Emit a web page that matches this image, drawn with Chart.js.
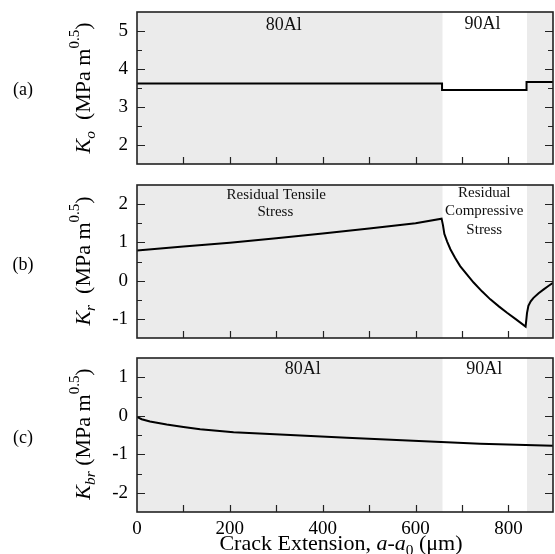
<!DOCTYPE html>
<html><head><meta charset="utf-8">
<script src="https://cdn.jsdelivr.net/npm/chart.js@4"></script>
<style>
html,body{margin:0;padding:0;background:#fff;}
#wrap{position:relative;width:555px;height:554px;overflow:hidden;}
canvas{position:absolute;left:0;}
.t{position:absolute;white-space:nowrap;font-family:'Liberation Serif',serif;color:#000;line-height:1;}
.yt{font-size:22px;transform:translate(-50%,-50%) rotate(-90deg);}
.pl{font-size:18px;transform:translate(-50%,-50%);}
.xt{font-size:22px;transform:translate(-50%,-50%);}
sub{font-size:70%;vertical-align:-0.3em;line-height:0;}
sup{font-size:68%;vertical-align:0.75em;line-height:0;}
</style></head>
<body>
<div id="wrap">
<canvas id="ca" width="555" height="176" style="top:0px"></canvas>
<canvas id="cb" width="555" height="172" style="top:176px"></canvas>
<canvas id="cc" width="555" height="206" style="top:348px"></canvas>
<div class="t pl" style="left:23px;top:89px">(a)</div>
<div class="t pl" style="left:23px;top:264px">(b)</div>
<div class="t pl" style="left:23px;top:437px">(c)</div>
<div class="t yt" style="left:83px;top:88px"><i>K</i><sub><i>o</i></sub>&nbsp; (MPa m<sup>0.5</sup>)</div>
<div class="t yt" style="left:83px;top:261px"><i>K</i><sub><i>r</i></sub>&nbsp; (MPa m<sup>0.5</sup>)</div>
<div class="t yt" style="left:83px;top:434px"><i>K</i><sub><i>br</i></sub>&nbsp;(MPa m<sup>0.5</sup>)</div>
<div class="t xt" style="left:341px;top:543px">Crack Extension, <i>a</i>-<i>a</i><sub>0</sub> (μm)</div>
</div>
<script>
// ---- data ----
const xRange = [0, 896];
const xTicks = [0, 100, 200, 300, 400, 500, 600, 700, 800];
const xLabels = ['0', '', '200', '', '400', '', '600', '', '800'];
const shadeStarts = [0, 840];
const shadeEnds = [658, 896];

const aX = [0, 657, 657, 839, 839, 896];
const aY = [3.62, 3.62, 3.45, 3.45, 3.66, 3.66];

const bX = [0, 100, 200, 300, 400, 500, 600, 656, 659, 662, 668, 675, 685, 696, 710, 725, 743, 761, 780, 797, 815, 837, 840, 843, 848, 854, 865, 876, 886, 896];
const bY = [0.79, 0.89, 0.99, 1.11, 1.23, 1.36, 1.50, 1.62, 1.45, 1.22, 1.02, 0.82, 0.60, 0.38, 0.17, -0.05, -0.28, -0.49, -0.68, -0.84, -1.00, -1.20, -0.85, -0.66, -0.54, -0.45, -0.33, -0.23, -0.14, -0.06];

const cX = [0, 10, 28, 64, 100, 136, 208, 308, 452, 595, 739, 896];
const cY = [-0.03, -0.09, -0.15, -0.23, -0.29, -0.35, -0.43, -0.49, -0.57, -0.65, -0.73, -0.78];

const aRange = [1.5, 5.5];
const bRange = [-1.5, 2.5];
const cRange = [-2.5, 1.5];

const aNotes = [{text: '80Al', x: 316, y: 5.16}, {text: '90Al', x: 744, y: 5.19}];
const bNotes = [{text: 'Residual Tensile', x: 300, y: 2.25, small: true}, {text: 'Stress', x: 298, y: 1.79, small: true},
                {text: 'Residual', x: 748, y: 2.28, small: true}, {text: 'Compressive', x: 748, y: 1.81, small: true}, {text: 'Stress', x: 748, y: 1.32, small: true}];
const cNotes = [{text: '80Al', x: 357, y: 1.21}, {text: '90Al', x: 748, y: 1.21}];

// ---- drawing helpers ----
const framePlugin = {
  id: 'frame',
  beforeDatasetsDraw(chart) {
    const {ctx, chartArea: ca, scales: {x}} = chart;
    ctx.save();
    ctx.fillStyle = '#ebebeb';
    for (let i = 0; i < shadeStarts.length; i++) {
      const l = x.getPixelForValue(shadeStarts[i]);
      const r = x.getPixelForValue(shadeEnds[i]);
      ctx.fillRect(l, ca.top, r - l, ca.bottom - ca.top);
    }
    ctx.restore();
  },
  afterDatasetsDraw(chart, args, opts) {
    const {ctx, chartArea: ca, scales: {x, y}} = chart;
    ctx.save();
    ctx.strokeStyle = '#222';
    ctx.lineWidth = 1.2;
    ctx.beginPath();
    y.ticks.forEach(t => {
      if (t.value <= y.min || t.value >= y.max) return;
      const tl = Number.isInteger(t.value) ? 8 : 5;
      const p = Math.round(y.getPixelForValue(t.value)) + 0.5;
      ctx.moveTo(ca.left, p); ctx.lineTo(ca.left + tl, p);
      ctx.moveTo(ca.right, p); ctx.lineTo(ca.right - tl, p);
    });
    x.ticks.forEach(t => {
      if (t.value <= x.min || t.value >= x.max) return;
      const p = Math.round(x.getPixelForValue(t.value)) + 0.5;
      ctx.moveTo(p, ca.bottom); ctx.lineTo(p, ca.bottom - 7);
    });
    ctx.stroke();
    ctx.lineWidth = 1.6;
    ctx.strokeRect(ca.left, ca.top, ca.right - ca.left, ca.bottom - ca.top);
    ctx.fillStyle = '#111';
    ctx.textAlign = 'center';
    ctx.textBaseline = 'middle';
    (opts.notes || []).forEach(n => {
      ctx.font = n.small ? '15px "Liberation Serif"' : '18px "Liberation Serif"';
      ctx.fillText(n.text, x.getPixelForValue(n.x), y.getPixelForValue(n.y));
    });
    ctx.restore();
  }
};

function zeroPad(s) { s.paddingTop = 0; s.paddingBottom = 0; s.paddingLeft = 0; s.paddingRight = 0; }

function makeChart(id, xs, ys, yr, notes, pad, showX) {
  const pts = xs.map((v, i) => ({x: v, y: ys[i]}));
  return new Chart(document.getElementById(id), {
    type: 'line',
    data: {datasets: [{data: pts, borderColor: '#000', borderWidth: 2, pointRadius: 0, tension: 0, fill: false}]},
    plugins: [framePlugin],
    options: {
      responsive: false, animation: false, devicePixelRatio: 1,
      layout: {padding: pad, autoPadding: false},
      plugins: {legend: {display: false}, tooltip: {enabled: false}, frame: {notes}},
      scales: {
        x: {
          type: 'linear', min: xRange[0], max: xRange[1],
          display: showX,
          grid: {display: false, drawTicks: false}, border: {display: false},
          afterBuildTicks: s => { s.ticks = xTicks.map(v => ({value: v})); },
          ticks: {
            autoSkip: false, maxRotation: 0, minRotation: 0, padding: 6,
            color: '#000', font: {family: 'Liberation Serif', size: 19},
            callback: (v) => xLabels[xTicks.indexOf(v)] ?? ''
          },
          afterFit: s => { s.height = showX ? 42 : 0; zeroPad(s); }
        },
        y: {
          type: 'linear', min: yr[0], max: yr[1],
          grid: {display: false, drawTicks: false}, border: {display: false},
          ticks: {
            stepSize: 0.5, autoSkip: false, padding: 9,
            color: '#000', font: {family: 'Liberation Serif', size: 19},
            callback: v => Number.isInteger(v) ? String(v) : ''
          },
          afterFit: s => { s.width = 137; zeroPad(s); }
        }
      }
    }
  });
}

makeChart('ca', aX, aY, aRange, aNotes, {left: 0, right: 2, top: 12, bottom: 12}, false);
makeChart('cb', bX, bY, bRange, bNotes, {left: 0, right: 2, top: 9, bottom: 10}, false);
makeChart('cc', cX, cY, cRange, cNotes, {left: 0, right: 2, top: 10, bottom: 0}, true);
</script>
</body></html>
